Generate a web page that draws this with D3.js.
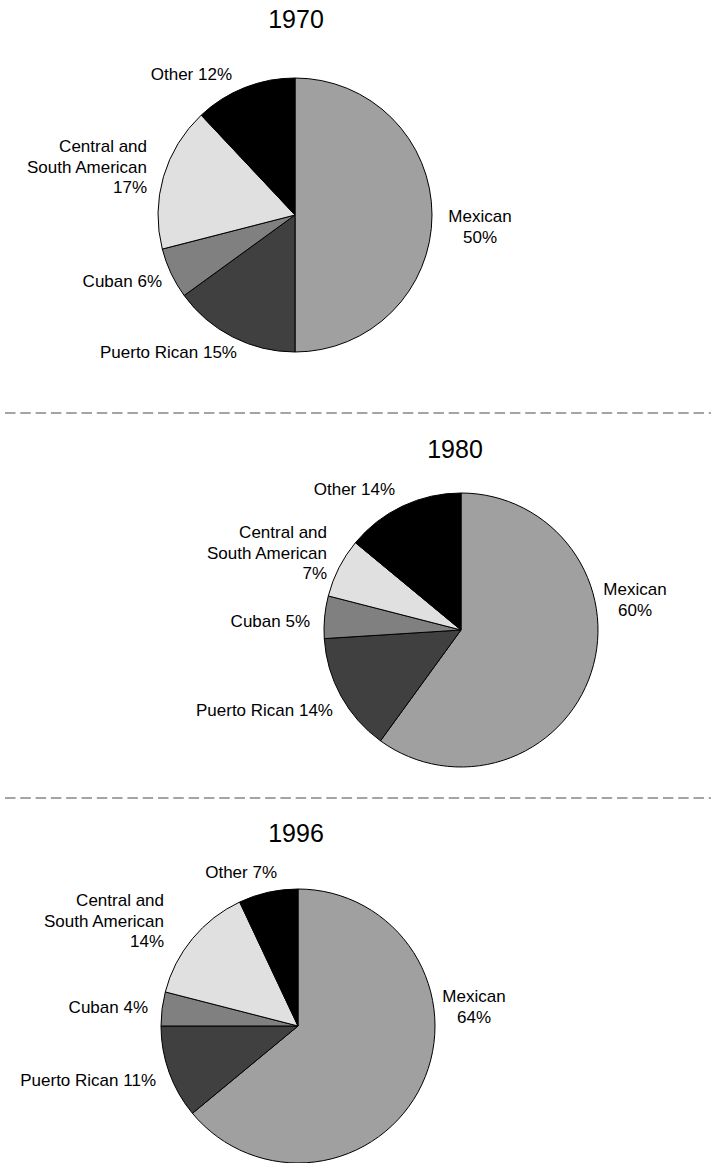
<!DOCTYPE html>
<html>
<head>
<meta charset="utf-8">
<script src="https://cdn.jsdelivr.net/npm/d3@7"></script>
<style>
  html, body { margin: 0; padding: 0; background: #fff; }
  svg { display: block; font-family: "Liberation Sans", Arial, Helvetica, sans-serif; }
</style>
</head>
<body>
<svg id="chart" width="711" height="1163"></svg>
<script>
// Hispanic population by origin, three snapshot years
var categories = ['Mexican', 'Puerto Rican', 'Cuban', 'Central and South American', 'Other'];
var years = ['1970', '1980', '1996'];
var share1970 = [50, 15, 6, 17, 12];
var share1980 = [60, 14, 5, 7, 14];
var share1996 = [64, 11, 4, 14, 7];
var shares = [share1970, share1980, share1996];

var greys = ['#a0a0a0', '#404040', '#808080', '#e0e0e0', '#000000'];
var fill = d3.scaleOrdinal(categories, greys);

// where each panel sits on the page
var panels = [
    { cx: 295, cy: 215, titleX: 296, titleY: 28 },
    { cx: 461, cy: 630, titleX: 455, titleY: 458 },
    { cx: 298, cy: 1026, titleX: 296, titleY: 842 }
];
var dividers = [413, 798];
var radius = 137;
var lineH = 20.5;

// hand placed label spots, offset from pie centre (dx, dy of first baseline, anchor)
var labelSpots = [
    [[185, 7, 'middle'], [-58, 143, 'end'], [-133, 72, 'end'], [-148, -63, 'end'], [-63, -135, 'end']],
    [[174, -35, 'middle'], [-128, 86, 'end'], [-151, -3, 'end'], [-134, -92, 'end'], [-66, -135, 'end']],
    [[176, -24, 'middle'], [-142, 60, 'end'], [-150, -13, 'end'], [-134, -120, 'end'], [-21, -148, 'end']]
];

function labelLines(name, v) {
    if (name === 'Mexican') return [name, v + '%'];
    if (name === 'Central and South American') return ['Central and', 'South American', v + '%'];
    return [name + ' ' + v + '%'];
}

var svg = d3.select('#chart');

var pie = d3.pie().sort(null).value(function(d) { return d; });
var arc = d3.arc().innerRadius(0).outerRadius(radius);

svg.selectAll('line.divider')
    .data(dividers)
    .enter()
    .append('line')
    .attr('class', 'divider')
    .attr('x1', 5)
    .attr('x2', 711)
    .attr('y1', function(d) { return d; })
    .attr('y2', function(d) { return d; })
    .attr('stroke', '#a4a4a4')
    .attr('stroke-width', 2)
    .attr('stroke-dasharray', '10.5,4.8');

years.forEach(function(year, i) {
    var p = panels[i];
    var g = svg.append('g').attr('transform', 'translate(' + p.cx + ',' + p.cy + ')');

    g.selectAll('path')
        .data(pie(shares[i]))
        .enter()
        .append('path')
        .attr('d', arc)
        .attr('fill', function(d, j) { return fill(categories[j]); })
        .attr('stroke', '#000')
        .attr('stroke-width', 1)
        .attr('stroke-linejoin', 'round');

    svg.append('text')
        .attr('x', p.titleX)
        .attr('y', p.titleY)
        .attr('text-anchor', 'middle')
        .attr('font-size', 25)
        .attr('fill', '#000')
        .text(year);

    categories.forEach(function(name, j) {
        var spot = labelSpots[i][j];
        var t = g.append('text')
            .attr('text-anchor', spot[2])
            .attr('font-size', 17)
            .attr('fill', '#000');
        labelLines(name, shares[i][j]).forEach(function(line, k) {
            t.append('tspan')
                .attr('x', spot[0])
                .attr('y', spot[1] + k * lineH)
                .text(line);
        });
    });
});
</script>
</body>
</html>
